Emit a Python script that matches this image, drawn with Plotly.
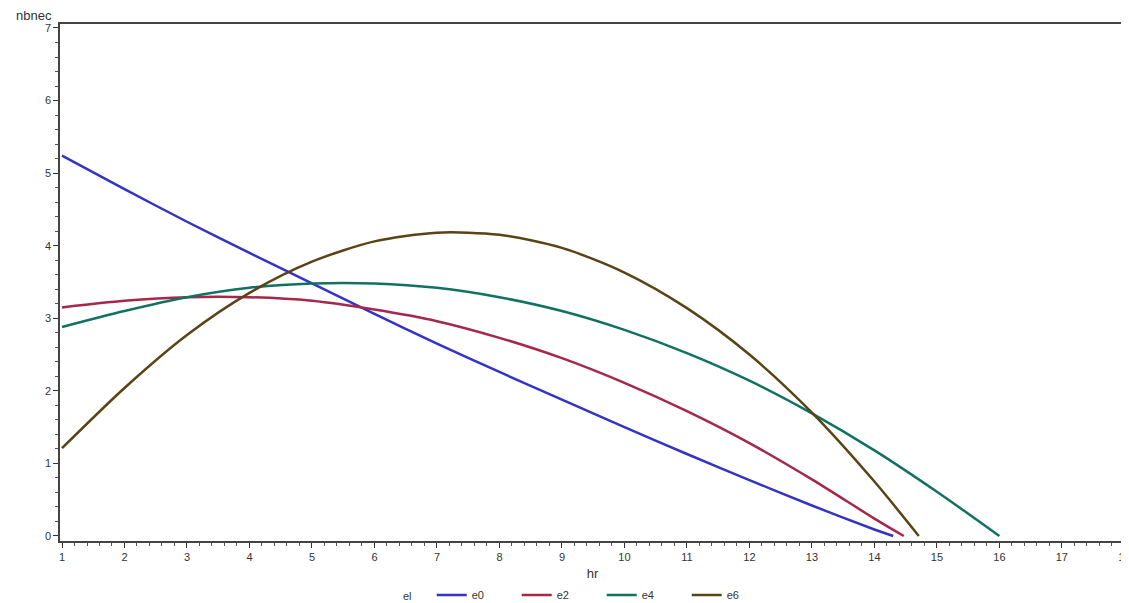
import plotly.graph_objects as go

# Data
hr_e0 = [1, 2, 3, 4, 5, 6, 7, 8, 9, 10, 11, 12, 13, 14, 14.3]
nb_e0 = [5.24, 4.78, 4.33, 3.90, 3.48, 3.06, 2.65, 2.26, 1.88, 1.50, 1.13, 0.77, 0.42, 0.09, 0.0]

hr_e2 = [1, 2, 3, 4, 5, 6, 7, 8, 9, 10, 11, 12, 13, 14, 14.47]
nb_e2 = [3.15, 3.24, 3.29, 3.29, 3.24, 3.12, 2.96, 2.73, 2.45, 2.11, 1.72, 1.28, 0.78, 0.24, 0.0]

hr_e4 = [1, 2, 3, 4, 5, 6, 7, 8, 9, 10, 11, 12, 13, 14, 15, 16]
nb_e4 = [2.88, 3.10, 3.29, 3.42, 3.48, 3.48, 3.42, 3.29, 3.10, 2.84, 2.52, 2.14, 1.69, 1.18, 0.61, 0.0]

hr_e6 = [1, 2, 3, 4, 5, 6, 7, 8, 9, 10, 11, 12, 13, 14, 14.71]
nb_e6 = [1.21, 2.04, 2.77, 3.35, 3.78, 4.06, 4.18, 4.15, 3.97, 3.63, 3.14, 2.50, 1.70, 0.75, 0.0]

series_names = ["e0", "e2", "e4", "e6"]
series_x = [hr_e0, hr_e2, hr_e4, hr_e6]
series_y = [nb_e0, nb_e2, nb_e4, nb_e6]
colors = ["#3333C8", "#A5284A", "#127262", "#5A4314"]

x_ticks = list(range(1, 19))
y_ticks = list(range(0, 8))

fig = go.Figure()
for name, xs, ys, c in zip(series_names, series_x, series_y, colors):
    fig.add_trace(go.Scatter(
        x=xs, y=ys, mode="lines", name=name,
        line=dict(color=c, width=2.5, shape="spline", smoothing=0.8),
    ))

font_family = "Liberation Sans, Arial, sans-serif"

# The page body adds an 8px offset, so the figure is sized to fit the window
fig.update_layout(
    width=1121, height=595,
    margin=dict(l=52, r=4, t=16, b=62, autoexpand=False),
    paper_bgcolor="white", plot_bgcolor="white",
    font=dict(family=font_family, size=11, color="#333333"),
    showlegend=True,
    legend=dict(
        orientation="h",
        xref="container", x=0.378, xanchor="left",
        yref="container", y=0.0134, yanchor="middle",
        entrywidth=40, entrywidthmode="pixels",
        font=dict(size=11, color="#333333"),
        bgcolor="rgba(0,0,0,0)",
    ),
    xaxis=dict(
        range=[0.968, 18.01],
        tickmode="array", tickvals=x_ticks, ticktext=[str(v) for v in x_ticks],
        ticks="outside", ticklen=5, tickwidth=1, tickcolor="#333333",
        ticklabeloverflow="allow",
        showline=True, linecolor="#444444", linewidth=1.5, mirror=True,
        showgrid=False, zeroline=False,
        minor=dict(dtick=0.2, ticks="outside", ticklen=3, tickcolor="#555555", showgrid=False),
        title=dict(text="hr", font=dict(size=13, color="#333333"), standoff=10),
        tickfont=dict(size=11, color="#333333"),
        automargin=False,
    ),
    yaxis=dict(
        range=[-0.069, 7.055],
        tickmode="array", tickvals=y_ticks, ticktext=[str(v) for v in y_ticks],
        ticks="outside", ticklen=5, tickwidth=1, tickcolor="#333333",
        showline=True, linecolor="#444444", linewidth=1.5,
        showgrid=False, zeroline=False,
        minor=dict(dtick=0.2, ticks="outside", ticklen=3, tickcolor="#555555", showgrid=False),
        tickfont=dict(size=11, color="#333333"),
        automargin=False,
    ),
    annotations=[
        dict(
            text="nbnec", x=0, xref="paper", xanchor="right", xshift=-6,
            y=1, yref="paper", yanchor="bottom", yshift=-1, showarrow=False,
            font=dict(size=13, color="#333333"),
        ),
        dict(
            text="el", x=0.3202, xref="paper", xanchor="left",
            y=-0.1064, yref="paper", yanchor="middle", showarrow=False,
            font=dict(size=11, color="#333333"),
        ),
    ],
)

fig.write_html("out.html")
